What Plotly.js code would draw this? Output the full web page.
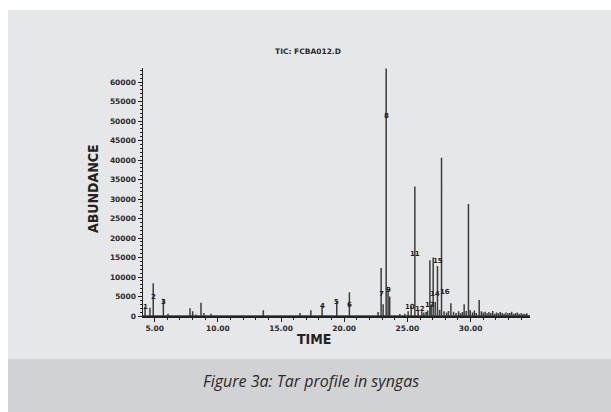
<!DOCTYPE html>
<html>
<head>
<meta charset="utf-8">
<script src="https://cdn.plot.ly/plotly-3.0.1.min.js"></script>
<style>
html,body{margin:0;padding:0;background:#fff;}
#chart{width:611px;height:412px;}
</style>
</head>
<body>
<div id="chart"></div>
<script>
// Main peaks (retention time in minutes, abundance)
const peakTimes   = [4.24, 4.63, 4.89, 5.69, 6.06, 7.80, 8.01, 8.27, 8.67, 8.90, 9.46, 13.60, 16.50, 17.36, 18.25, 19.41, 20.41, 22.68, 22.92, 23.08, 23.32, 23.47, 23.60, 24.40, 24.80, 25.06, 25.30, 25.59, 25.85, 26.14, 26.48, 26.78, 26.88, 27.04, 27.20, 27.38, 27.70, 28.44, 29.49, 29.83, 29.97, 30.68];
const peakHeights = [2300, 2100, 8400, 4300, 600, 2000, 1200, 400, 3400, 800, 600, 1500, 800, 1500, 2600, 3900, 6100, 1000, 12300, 3000, 63500, 6900, 5000, 500, 600, 1200, 2500, 33200, 1500, 1200, 1000, 14300, 2800, 15000, 3600, 12800, 40600, 3300, 3000, 28700, 1500, 4100];

// Small baseline peaks in the late part of the run
const noiseTimes   = [26.30, 26.60, 27.55, 27.90, 28.10, 28.25, 28.65, 28.85, 29.05, 29.20, 29.35, 29.65, 30.15, 30.30, 30.45, 30.85, 31.00, 31.15, 31.30, 31.45, 31.60, 31.75, 31.90, 32.05, 32.20, 32.35, 32.50, 32.65, 32.80, 32.95, 33.10, 33.25, 33.40, 33.55, 33.70, 33.85, 34.00, 34.15, 34.30, 34.45];
const noiseHeights = [900, 1400, 1600, 1200, 900, 1300, 1100, 800, 1200, 700, 1000, 1300, 900, 1400, 800, 1200, 900, 1100, 700, 1000, 800, 1300, 600, 900, 700, 1000, 800, 600, 900, 700, 800, 1100, 600, 700, 900, 500, 700, 600, 500, 700];

// Peak number labels
const labelTexts   = ["1", "2", "3", "4", "5", "6", "7", "8", "9", "10", "11", "12", "13", "14", "15", "16"];
const labelTimes   = [4.24, 4.89, 5.69, 18.25, 19.41, 20.41, 22.92, 23.32, 23.50, 25.22, 25.59, 26.02, 26.78, 27.22, 27.40, 27.95];
const labelHeights = [2300, 4900, 3600, 2600, 3700, 2800, 5600, 51400, 6700, 2400, 15900, 1800, 2800, 5600, 14200, 6200];

const xStart = 4.08, xEnd = 34.7;

const all = peakTimes.map((t, i) => [t, peakHeights[i]])
  .concat(noiseTimes.map((t, i) => [t, noiseHeights[i]]))
  .sort((a, b) => a[0] - b[0]);
const xs = [xStart], ys = [0];
all.forEach(p => { xs.push(p[0], p[0], p[0]); ys.push(0, p[1], 0); });
xs.push(xEnd); ys.push(0);

const trace = {
  x: xs, y: ys, type: 'scatter', mode: 'lines',
  line: {color: '#3c3c3c', width: 1.5},
  hoverinfo: 'skip', showlegend: false
};

const W = 611, H = 412;
const tickFont = {family: 'DejaVu Sans', size: 7.5, color: '#2a2a2a', weight: 'bold'};
const titleFamily = 'DejaVu Sans Condensed, Roboto Condensed, Roboto, DejaVu Sans, sans-serif';

const annotations = labelTexts.map((s, i) => ({
  x: labelTimes[i], y: labelHeights[i], xref: 'x', yref: 'y',
  text: s, showarrow: false,
  font: {family: 'DejaVu Sans', size: 7, color: '#222', weight: 'bold'}
}));

annotations.push({
  xref: 'paper', yref: 'paper', x: (93 - 143) / 387, y: (316 - 189) / 248,
  text: 'ABUNDANCE', textangle: -90, showarrow: false,
  xanchor: 'center', yanchor: 'middle',
  font: {family: titleFamily, size: 14, color: '#222', weight: 'bold'}
});
annotations.push({
  xref: 'paper', yref: 'paper', x: (314 - 143) / 387, y: (316 - 339) / 248,
  text: 'TIME', showarrow: false, xanchor: 'center', yanchor: 'middle',
  font: {family: titleFamily, size: 14, color: '#222', weight: 'bold'}
});
annotations.push({
  xref: 'paper', yref: 'paper', x: (311 - 143) / 387, y: (316 - 381) / 248,
  text: '<i>Figure 3a: Tar profile in syngas</i>', showarrow: false,
  xanchor: 'center', yanchor: 'middle',
  font: {family: 'Open Sans', size: 16, color: '#2a2a2a'}
});

const layout = {
  width: W, height: H,
  margin: {l: 143, r: 81, t: 68, b: 96},
  paper_bgcolor: '#ffffff',
  plot_bgcolor: 'rgba(0,0,0,0)',
  title: {
    text: 'TIC: FCBA012.D',
    x: 308 / W, xanchor: 'center', xref: 'container',
    y: 1 - 51 / H, yanchor: 'middle', yref: 'container',
    font: {family: 'DejaVu Sans', size: 7.5, color: '#2a2a2a', weight: 'bold'}
  },
  xaxis: {
    range: [xStart, xEnd], tick0: 5, dtick: 5, tickformat: '.2f',
    showgrid: false, zeroline: false,
    showline: true, linecolor: '#222', linewidth: 1.5,
    ticks: 'outside', ticklen: 4, tickwidth: 1, tickcolor: '#222',
    minor: {dtick: 1, ticks: 'outside', ticklen: 2, tickcolor: '#222', showgrid: false},
    tickfont: tickFont
  },
  yaxis: {
    range: [0, 63600], tick0: 0, dtick: 5000, tickformat: 'd',
    showgrid: false, zeroline: false,
    showline: true, linecolor: '#222', linewidth: 1.5,
    ticks: 'outside', ticklen: 4, tickwidth: 1, tickcolor: '#222',
    minor: {dtick: 1000, ticks: 'outside', ticklen: 2, tickcolor: '#222', showgrid: false},
    tickfont: tickFont
  },
  shapes: [
    {type: 'rect', xref: 'paper', yref: 'paper', layer: 'below',
     x0: (8 - 143) / 387, x1: (611 - 143) / 387,
     y0: (316 - 359) / 248, y1: (316 - 10) / 248,
     fillcolor: '#e6e7e8', line: {width: 0}},
    {type: 'rect', xref: 'paper', yref: 'paper', layer: 'below',
     x0: (8 - 143) / 387, x1: (611 - 143) / 387,
     y0: (316 - 412) / 248, y1: (316 - 359) / 248,
     fillcolor: '#d1d2d4', line: {width: 0}}
  ],
  annotations: annotations
};

Plotly.newPlot('chart', [trace], layout, {displayModeBar: false, staticPlot: true});
</script>
</body>
</html>
